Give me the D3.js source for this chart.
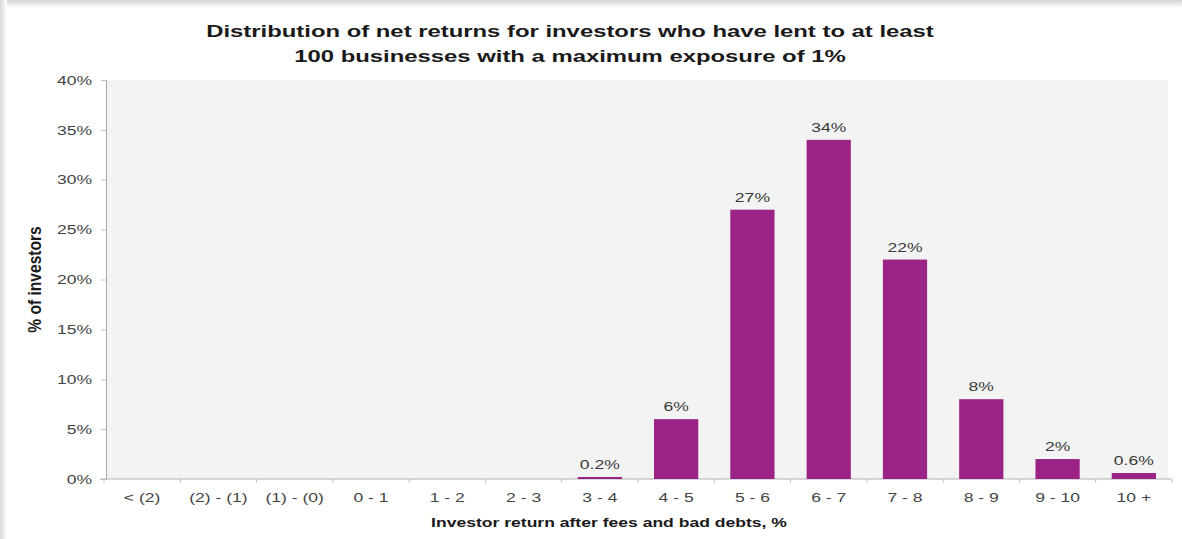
<!DOCTYPE html>
<html>
<head>
<meta charset="utf-8">
<script src="https://cdn.jsdelivr.net/npm/d3@7"></script>
<style>
  html, body { margin: 0; padding: 0; background: #ffffff; }
  svg { display: block; font-family: "Liberation Sans", Arial, sans-serif; }
</style>
</head>
<body>
<svg id="chart" width="1182" height="539"></svg>
<script>
// Return bands and share of investors in each band (%)
const categories = ["< (2)", "(2) - (1)", "(1) - (0)", "0 - 1", "1 - 2", "2 - 3", "3 - 4",
                    "4 - 5", "5 - 6", "6 - 7", "7 - 8", "8 - 9", "9 - 10", "10 +"];
const shares = [null, null, null, null, null, null, 0.2, 6, 27, 34, 22, 8, 2, 0.6];
const yTicks = [0, 5, 10, 15, 20, 25, 30, 35, 40];

const titleLines = [
  "Distribution of net returns for investors who have lent to at least",
  "100 businesses with a maximum exposure of 1%"
];
const yTitle = "% of investors";
const xTitle = "Investor return after fees and bad debts, %";

const W = 1182, H = 539;
const margin = { top: 80, left: 104 };
const plotRight = 1172;
const baseY = 479;
const stretch = 1.35; // wide lettering used throughout the chart
const svg = d3.select("#chart");

// frame shading along the top and left edges
const defs = svg.append("defs");
const gTop = defs.append("linearGradient").attr("id", "shadeTop").attr("x1", 0).attr("y1", 0).attr("x2", 0).attr("y2", 1);
gTop.append("stop").attr("offset", 0).attr("stop-color", "#d4d4d4");
gTop.append("stop").attr("offset", 1).attr("stop-color", "#ffffff");
const gLeft = defs.append("linearGradient").attr("id", "shadeLeft").attr("x1", 0).attr("y1", 0).attr("x2", 1).attr("y2", 0);
gLeft.append("stop").attr("offset", 0).attr("stop-color", "#d8d8d8");
gLeft.append("stop").attr("offset", 1).attr("stop-color", "#ffffff");
svg.append("rect").attr("x", 0).attr("y", 0).attr("width", W).attr("height", H).attr("fill", "#ffffff");
svg.append("rect").attr("x", 0).attr("y", 0).attr("width", W).attr("height", 8).attr("fill", "url(#shadeTop)");
svg.append("rect").attr("x", 0).attr("y", 0).attr("width", 7).attr("height", H).attr("fill", "url(#shadeLeft)");

const x = d3.scaleBand()
  .domain(categories)
  .range([margin.left, plotRight])
  .paddingInner(0.42)
  .paddingOuter(0.21);

const y = d3.scaleLinear()
  .domain([0, 40])
  .range([baseY, margin.top]);

// plot area background
svg.append("rect")
  .attr("x", margin.left + 2)
  .attr("y", y(40))
  .attr("width", 1168 - margin.left - 2)
  .attr("height", y(0) - y(40))
  .attr("fill", "#f3f3f3");

// places a horizontally widened label at (px, py)
function wide(sel, px, py, k = stretch) {
  sel.attr("x", 0).attr("y", 0)
     .attr("transform", (d, i) => `translate(${px(d, i)},${py(d, i)}) scale(${k},1)`);
}

// title
svg.append("g").selectAll("text")
  .data(titleLines)
  .join("text")
  .call(wide, () => 570, (d, i) => 37 + i * 24.5, 1.38)
  .attr("text-anchor", "middle")
  .attr("font-size", 17.3)
  .attr("font-weight", "bold")
  .attr("fill", "#1a1a1a")
  .text(d => d);

// y axis
const yAxis = svg.append("g")
  .attr("transform", `translate(${margin.left + 2},0)`)
  .call(d3.axisLeft(y).tickValues(yTicks).tickFormat(d => d + "%").tickSize(5));
yAxis.select(".domain").attr("stroke", "#a8a8a8");
yAxis.selectAll(".tick line").attr("stroke", "#c4c4c4");
yAxis.selectAll(".tick text")
  .attr("x", 0)
  .attr("transform", `translate(-14,0) scale(${stretch},1)`)
  .attr("font-size", 13)
  .attr("font-family", "Liberation Sans, Arial, sans-serif")
  .attr("fill", "#454545");

// x axis with ticks at band boundaries
const xAxisG = svg.append("g").attr("transform", `translate(0,${y(0)})`);
xAxisG.append("line")
  .attr("x1", margin.left - 4).attr("x2", plotRight)
  .attr("stroke", "#b0b0b0");
const gap = x.step() - x.bandwidth();
const bounds = categories.map(c => x(c) - gap / 2)
  .concat([x(categories[categories.length - 1]) + x.bandwidth() + gap / 2]);
xAxisG.selectAll("line.tick")
  .data(bounds)
  .join("line")
  .attr("class", "tick")
  .attr("x1", d => d).attr("x2", d => d)
  .attr("y1", 0).attr("y2", 4)
  .attr("stroke", "#c4c4c4");
xAxisG.selectAll("text.cat")
  .data(categories)
  .join("text")
  .attr("class", "cat")
  .call(wide, d => x(d) + x.bandwidth() / 2, () => 23)
  .attr("text-anchor", "middle")
  .attr("font-size", 13)
  .attr("fill", "#454545")
  .text(d => d);

// bars
const data = categories.map((c, i) => ({ cat: c, v: shares[i] })).filter(d => d.v != null);
svg.append("g").selectAll("rect")
  .data(data)
  .join("rect")
  .attr("x", d => x(d.cat))
  .attr("y", d => y(d.v))
  .attr("width", x.bandwidth())
  .attr("height", d => y(0) - y(d.v))
  .attr("fill", "#9b2386");

// value labels
svg.append("g").selectAll("text")
  .data(data)
  .join("text")
  .call(wide, d => x(d.cat) + x.bandwidth() / 2, d => y(d.v) - 8)
  .attr("text-anchor", "middle")
  .attr("font-size", 13)
  .attr("fill", "#3a3a3a")
  .text(d => d.v + "%");

// axis titles
svg.append("text")
  .attr("transform", `translate(41,${(y(0) + y(40)) / 2}) rotate(-90) scale(1.2,${stretch})`)
  .attr("text-anchor", "middle")
  .attr("font-size", 13)
  .attr("font-weight", "bold")
  .attr("fill", "#1a1a1a")
  .text(yTitle);

svg.append("text")
  .call(wide, () => 609, () => 527)
  .attr("text-anchor", "middle")
  .attr("font-size", 13)
  .attr("font-weight", "bold")
  .attr("fill", "#1a1a1a")
  .text(xTitle);
</script>
</body>
</html>
